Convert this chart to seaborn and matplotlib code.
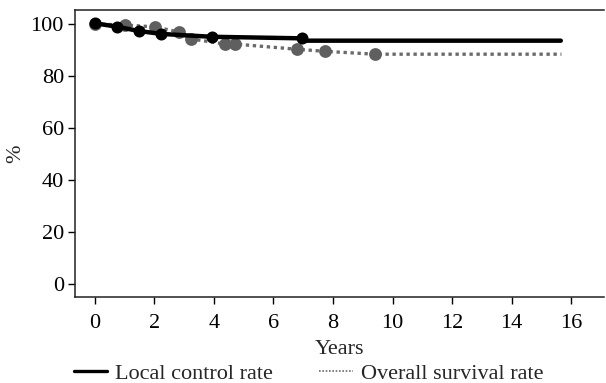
import matplotlib
matplotlib.use("Agg")
import matplotlib.pyplot as plt
import seaborn as sns
import pandas as pd
from matplotlib.lines import Line2D

# Local control rate (black)
lc_x = [0.0, 0.74, 1.49, 2.24, 3.93, 6.95]
lc_y = [100.3, 99.0, 97.3, 96.2, 95.1, 94.5]
lc_line_x = [0.0, 0.74, 1.49, 2.24, 3.93, 6.95, 7.0, 15.65]
lc_line_y = [100.3, 99.0, 97.3, 96.2, 95.1, 94.5, 93.6, 93.6]

# Overall survival rate (gray)
os_x = [0.0, 1.02, 2.02, 2.84, 3.23, 4.38, 4.71, 6.79, 7.73, 9.41]
os_y = [100.0, 99.6, 98.9, 96.9, 94.3, 92.3, 92.3, 90.3, 89.5, 88.4]
os_line_x = [0.0, 1.02, 2.02, 2.84, 3.23, 4.38, 4.71, 6.79, 7.73, 9.41, 15.67]
os_line_y = [100.0, 99.6, 98.9, 96.9, 94.3, 92.3, 92.3, 90.3, 89.5, 88.4, 88.4]

x_ticks = [0, 2, 4, 6, 8, 10, 12, 14, 16]
y_ticks = [0, 20, 40, 60, 80, 100]

sns.set_theme(style="ticks")
plt.rcParams['font.family'] = ['Liberation Serif', 'DejaVu Serif']
plt.rcParams['font.size'] = 16

fig = plt.figure(figsize=(6.06, 3.83), dpi=100)
ax = fig.add_axes([0.1238, 0.2245, 0.8729, 0.7494])

GRAY = "#6a6a6a"
os_line = pd.DataFrame({"x": os_line_x, "y": os_line_y})
lc_line = pd.DataFrame({"x": lc_line_x, "y": lc_line_y})
sns.lineplot(data=os_line, x="x", y="y", ax=ax, color=GRAY, linewidth=2.4,
             linestyle=(0, (1, 1.1)), estimator=None, sort=False)
ax.lines[-1].set_dash_capstyle("butt")
sns.scatterplot(x=os_x, y=os_y, ax=ax, color="#5f5f5f", s=85, linewidth=0, zorder=3)
sns.lineplot(data=lc_line, x="x", y="y", ax=ax, color="black", linewidth=3.2,
             estimator=None, sort=False, zorder=4)
sns.scatterplot(x=lc_x, y=lc_y, ax=ax, color="black", s=75, linewidth=0, zorder=5)

ax.set_xlim(-0.66, 17.1)
ax.set_ylim(-5, 105.4)
ax.set_xticks(x_ticks)
ax.set_yticks(y_ticks)
ax.set_xlabel("Years", fontsize=16, labelpad=5)
ax.set_ylabel("%", fontsize=16, labelpad=4)
ax.tick_params(axis="both", direction="out", length=5, width=1, colors="black",
               labelsize=16)
ax.tick_params(axis="x", pad=7)
ax.tick_params(axis="y", pad=3)
for side in ["left", "bottom", "top"]:
    ax.spines[side].set_visible(True)
    ax.spines[side].set_color("#222222")
    ax.spines[side].set_linewidth(1.1)
ax.spines["right"].set_visible(False)
ax.spines["right"].set_color("none")
ax.patch.set_edgecolor("none")

handles = [Line2D([0], [0], color="black", linewidth=2.4),
           Line2D([0], [0], color=GRAY, linewidth=1.2, linestyle=(0, (1, 1)))]
fig.legend(handles, ["Local control rate", "Overall survival rate"],
           loc="lower center", bbox_to_anchor=(0.509, -0.055), ncol=2, frameon=False,
           fontsize=16, handlelength=1.5, handletextpad=0.36, columnspacing=2.1)

fig.savefig("out.png", dpi=100)
